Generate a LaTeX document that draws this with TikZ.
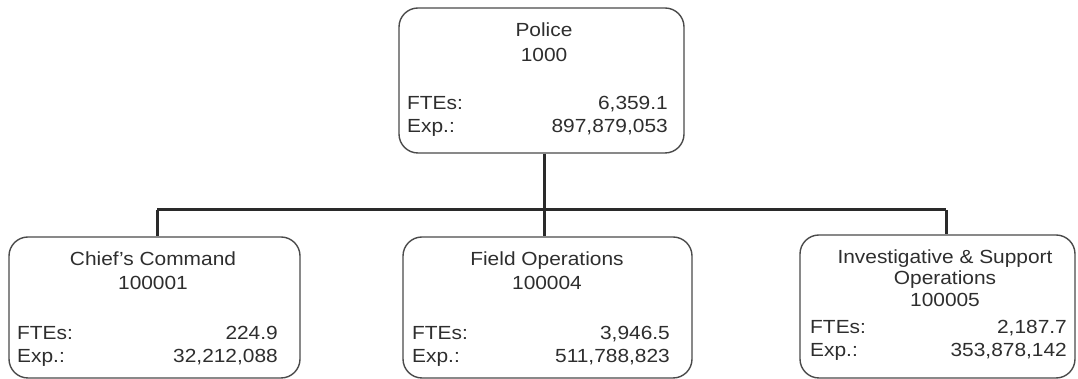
\documentclass[tikz,border=0pt]{standalone}
\usepackage{fontspec}
\setmainfont{Liberation Sans}[FakeStretch=1.1]
\begin{document}
\begin{tikzpicture}[x=1pt,y=1pt,
  unitbox/.style={draw=boxgray,line width=1.4pt,rounded corners=19pt,inner sep=0pt},
  conn/.style={draw=linegray,line width=3pt},
  txt/.style={inner sep=0pt,text=textgray,font=\fontsize{19}{22}\selectfont},
  ttl/.style={txt,anchor=base},
  lbl/.style={txt,anchor=base west},
  val/.style={txt,anchor=base east}]
\definecolor{boxgray}{HTML}{4A4A4A}
\definecolor{linegray}{HTML}{2A2A2A}
\definecolor{textgray}{HTML}{2E2E2E}
\useasboundingbox (0,0) rectangle (1078,379);
% boxes
\node[unitbox,minimum width=285pt,minimum height=145pt] (police) at (541.5,298.5) {};
\node[unitbox,minimum width=291pt,minimum height=141pt] (chief) at (154.5,71.5) {};
\node[unitbox,minimum width=289pt,minimum height=141pt] (field) at (547.5,71.5) {};
\node[unitbox,minimum width=275pt,minimum height=143pt] (invest) at (937.5,72.5) {};
% connector coordinates
\coordinate (d1) at (157,169);
\coordinate (d2) at (544,169);
\coordinate (d3) at (946,169);
\draw[conn] (police.south -| d2) -- (d2);
\draw[conn] (d1) -- (d3);
\draw[conn] (d1) -- (chief.north -| d1);
\draw[conn] (d2) -- (field.north -| d2);
\draw[conn] (d3) -- (invest.north -| d3);
% Police
\node[ttl] (p1) at (544,342) {Police};
\node[ttl] (p2) at (544,317) {1000};
\node[lbl] (p3) at (407,269) {FTEs:};
\node[val] (p4) at (668,269) {6,359.1};
\node[lbl] (p5) at (407,246) {Exp.:};
\node[val] (p6) at (668,246) {897,879,053};
% Chief's Command
\node[ttl] (c1) at (153,113) {Chief’s Command};
\node[ttl] (c2) at (153,89) {100001};
\node[lbl] (c3) at (17,39) {FTEs:};
\node[val] (c4) at (278,39) {224.9};
\node[lbl] (c5) at (17,16) {Exp.:};
\node[val] (c6) at (278,16) {32,212,088};
% Field Operations
\node[ttl] (f1) at (547,113) {Field Operations};
\node[ttl] (f2) at (547,89) {100004};
\node[lbl] (f3) at (412,39) {FTEs:};
\node[val] (f4) at (670,39) {3,946.5};
\node[lbl] (f5) at (412,16) {Exp.:};
\node[val] (f6) at (670,16) {511,788,823};
% Investigative & Support Operations
\node[ttl] (i1) at (945,115.5) {Investigative \& Support};
\node[ttl] (i2) at (945,94) {Operations};
\node[ttl] (i3) at (945,72) {100005};
\node[lbl] (i4) at (810,45.5) {FTEs:};
\node[val] (i5) at (1067,45.5) {2,187.7};
\node[lbl] (i6) at (810,22) {Exp.:};
\node[val] (i7) at (1067,22) {353,878,142};
\end{tikzpicture}
\end{document}
